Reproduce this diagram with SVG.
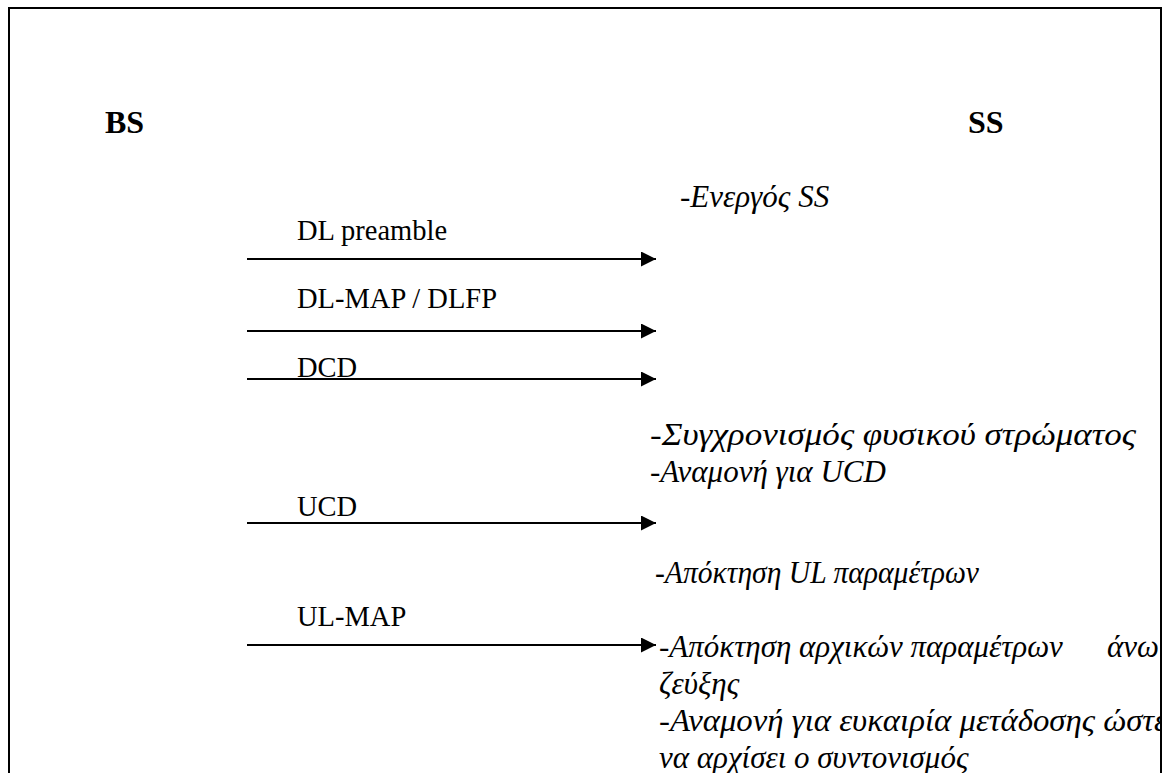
<svg xmlns="http://www.w3.org/2000/svg" width="1168" height="773" viewBox="0 0 1168 773">
<style>
.hdr{font-family:'Liberation Serif',serif;font-weight:bold;font-size:32px;fill:#000}
.lbl{font-family:'Liberation Serif',serif;font-size:28.5px;fill:#000}
.note{font-family:'Liberation Serif',serif;font-style:italic;font-size:31px;fill:#000}
.msg{stroke:#000;stroke-width:2;fill:none}
</style>
<defs>
<marker id="ah" markerWidth="16" markerHeight="16" refX="15" refY="7.5" orient="auto" markerUnits="userSpaceOnUse">
<path d="M0,0 L15,7.5 L0,15 Z" fill="#000"/>
</marker>
<clipPath id="frameclip"><rect x="0" y="0" width="1160" height="773"/></clipPath>
</defs>
<rect width="1168" height="773" fill="#fff"/>
<path d="M9,780 L9,8 L1161,8 L1161,780" fill="none" stroke="#000" stroke-width="2"/>
<g id="node-bs"><text class="hdr" x="105" y="133">BS</text></g>
<g id="node-ss"><text class="hdr" x="968" y="133">SS</text></g>
<g id="connectors">
<line class="msg" x1="247" y1="259" x2="656" y2="259" marker-end="url(#ah)"/>
<line class="msg" x1="247" y1="331" x2="656" y2="331" marker-end="url(#ah)"/>
<line class="msg" x1="247" y1="379" x2="656" y2="379" marker-end="url(#ah)"/>
<line class="msg" x1="247" y1="523" x2="656" y2="523" marker-end="url(#ah)"/>
<line class="msg" x1="247" y1="645" x2="656" y2="645" marker-end="url(#ah)"/>
</g>
<g id="labels">
<text class="lbl" x="297" y="240">DL preamble</text>
<text class="lbl" x="297" y="308">DL-MAP / DLFP</text>
<text class="lbl" x="297" y="377">DCD</text>
<text class="lbl" x="297" y="516">UCD</text>
<text class="lbl" x="297" y="626">UL-MAP</text>
</g>
<g id="ss-notes" clip-path="url(#frameclip)">
<text class="note" x="680" y="207">-Ενεργός SS</text>
<text class="note" x="650" y="445" textLength="486" lengthAdjust="spacingAndGlyphs">-Συγχρονισμός φυσικού στρώματος</text>
<text class="note" x="650" y="482">-Αναμονή για UCD</text>
<text class="note" x="655" y="583" textLength="324" lengthAdjust="spacingAndGlyphs">-Απόκτηση UL παραμέτρων</text>
<text class="note" x="659" y="657">-Απόκτηση αρχικών παραμέτρων</text>
<text class="note" x="1159" y="657" text-anchor="end">άνω</text>
<text class="note" x="659" y="694">ζεύξης</text>
<text class="note" x="659" y="731" textLength="508" lengthAdjust="spacingAndGlyphs">-Αναμονή για ευκαιρία μετάδοσης ώστε</text>
<text class="note" x="659" y="768">να αρχίσει ο συντονισμός</text>
</g>
</svg>
